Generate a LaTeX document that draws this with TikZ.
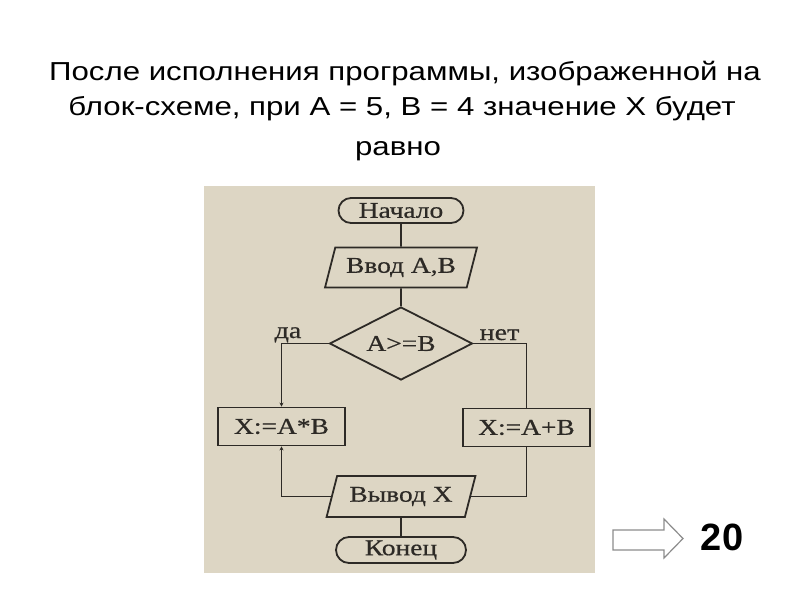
\documentclass[tikz,border=0pt]{standalone}
\usepackage{fontspec}
\setmainfont{Liberation Sans}
\newfontfamily\titlefont[FakeStretch=1.2]{Liberation Sans}
\newfontfamily\fcfont[FakeStretch=1.22,FakeBold=0.6]{Liberation Serif}
\usetikzlibrary{shapes.geometric,shapes.misc,arrows.meta}
\definecolor{panel}{RGB}{221,214,196}
\definecolor{ink}{RGB}{45,42,38}
\tikzset{
  fc/.style={draw=ink, line width=1.8pt, inner sep=0pt, font=\fcfont\fontsize{22.5}{25}\selectfont, text=ink},
  term/.style={fc, rounded rectangle, minimum width=125pt, minimum height=25pt},
  io/.style={fc, trapezium, trapezium left angle=66, trapezium right angle=114, trapezium stretches=true, minimum width=152pt, minimum height=40pt},
  proc/.style={fc, rectangle, minimum width=127pt, minimum height=38pt},
  dec/.style={fc, diamond, aspect=2, minimum width=143pt, minimum height=73pt},
  conn/.style={draw=ink, line width=1.8pt},
  tip/.style={-{Stealth[length=4pt,width=4pt]}},
  lbl/.style={font=\fcfont\fontsize{23}{25}\selectfont, text=ink, inner sep=0pt},
  title/.style={font=\titlefont\fontsize{26}{30}\selectfont, inner sep=0pt}
}
\begin{document}
\begin{tikzpicture}[x=1pt,y=-1pt]
\useasboundingbox (0,0) rectangle (800,600);
\fill[white] (0,0) rectangle (800,600);
% title
\node[title, anchor=base] (t1) at (405,80) {После исполнения программы, изображенной на};
\node[title, anchor=base] (t2) at (402,115) {блок-схеме, при А = 5, В = 4 значение Х будет};
\node[title, anchor=base] (t3) at (398,155) {равно};
% panel
\fill[panel] (204,186) rectangle (595,573);
% flowchart
\node[term] (start) at (401,210.5) {Начало};
\node[io] (in) at (401,267.5) {Ввод А,В};
\node[dec] (cond) at (401,343.5) {А>=В};
\node[proc] (mul) at (281.5,426.5) {X:=A*B};
\node[proc] (add) at (526.5,427.5) {X:=A+B};
\node[io, minimum height=41pt, minimum width=149pt] (out) at (401,496.5) {Вывод X};
\node[term, minimum width=130pt, minimum height=26pt] (end) at (401,550) {Конец};
\node[lbl, anchor=base] (yes) at (288,338) {да};
\node[lbl, anchor=base] (no) at (499.5,340) {нет};
\draw[conn] (start.south) -- (in.north);
\draw[conn] (in.south) -- (cond.north);
\draw[conn, tip] (cond.west) -| (mul.north);
\draw[conn] (cond.east) -| (add.north);
\draw[conn, tip] (out.west) -| (mul.south);
\draw[conn] (add.south) |- (out.east);
\draw[conn] (out.south) -- (end.north);
% answer
\draw[draw=gray!90, line width=1.2pt, fill=white] (613,530) -- (664,530) -- (664,519) -- (683,538.5) -- (664,558) -- (664,550) -- (613,550) -- cycle;
\node[font=\bfseries\fontsize{38}{40}\selectfont, inner sep=0pt] (ans) at (722,537) {20};
\end{tikzpicture}
\end{document}
